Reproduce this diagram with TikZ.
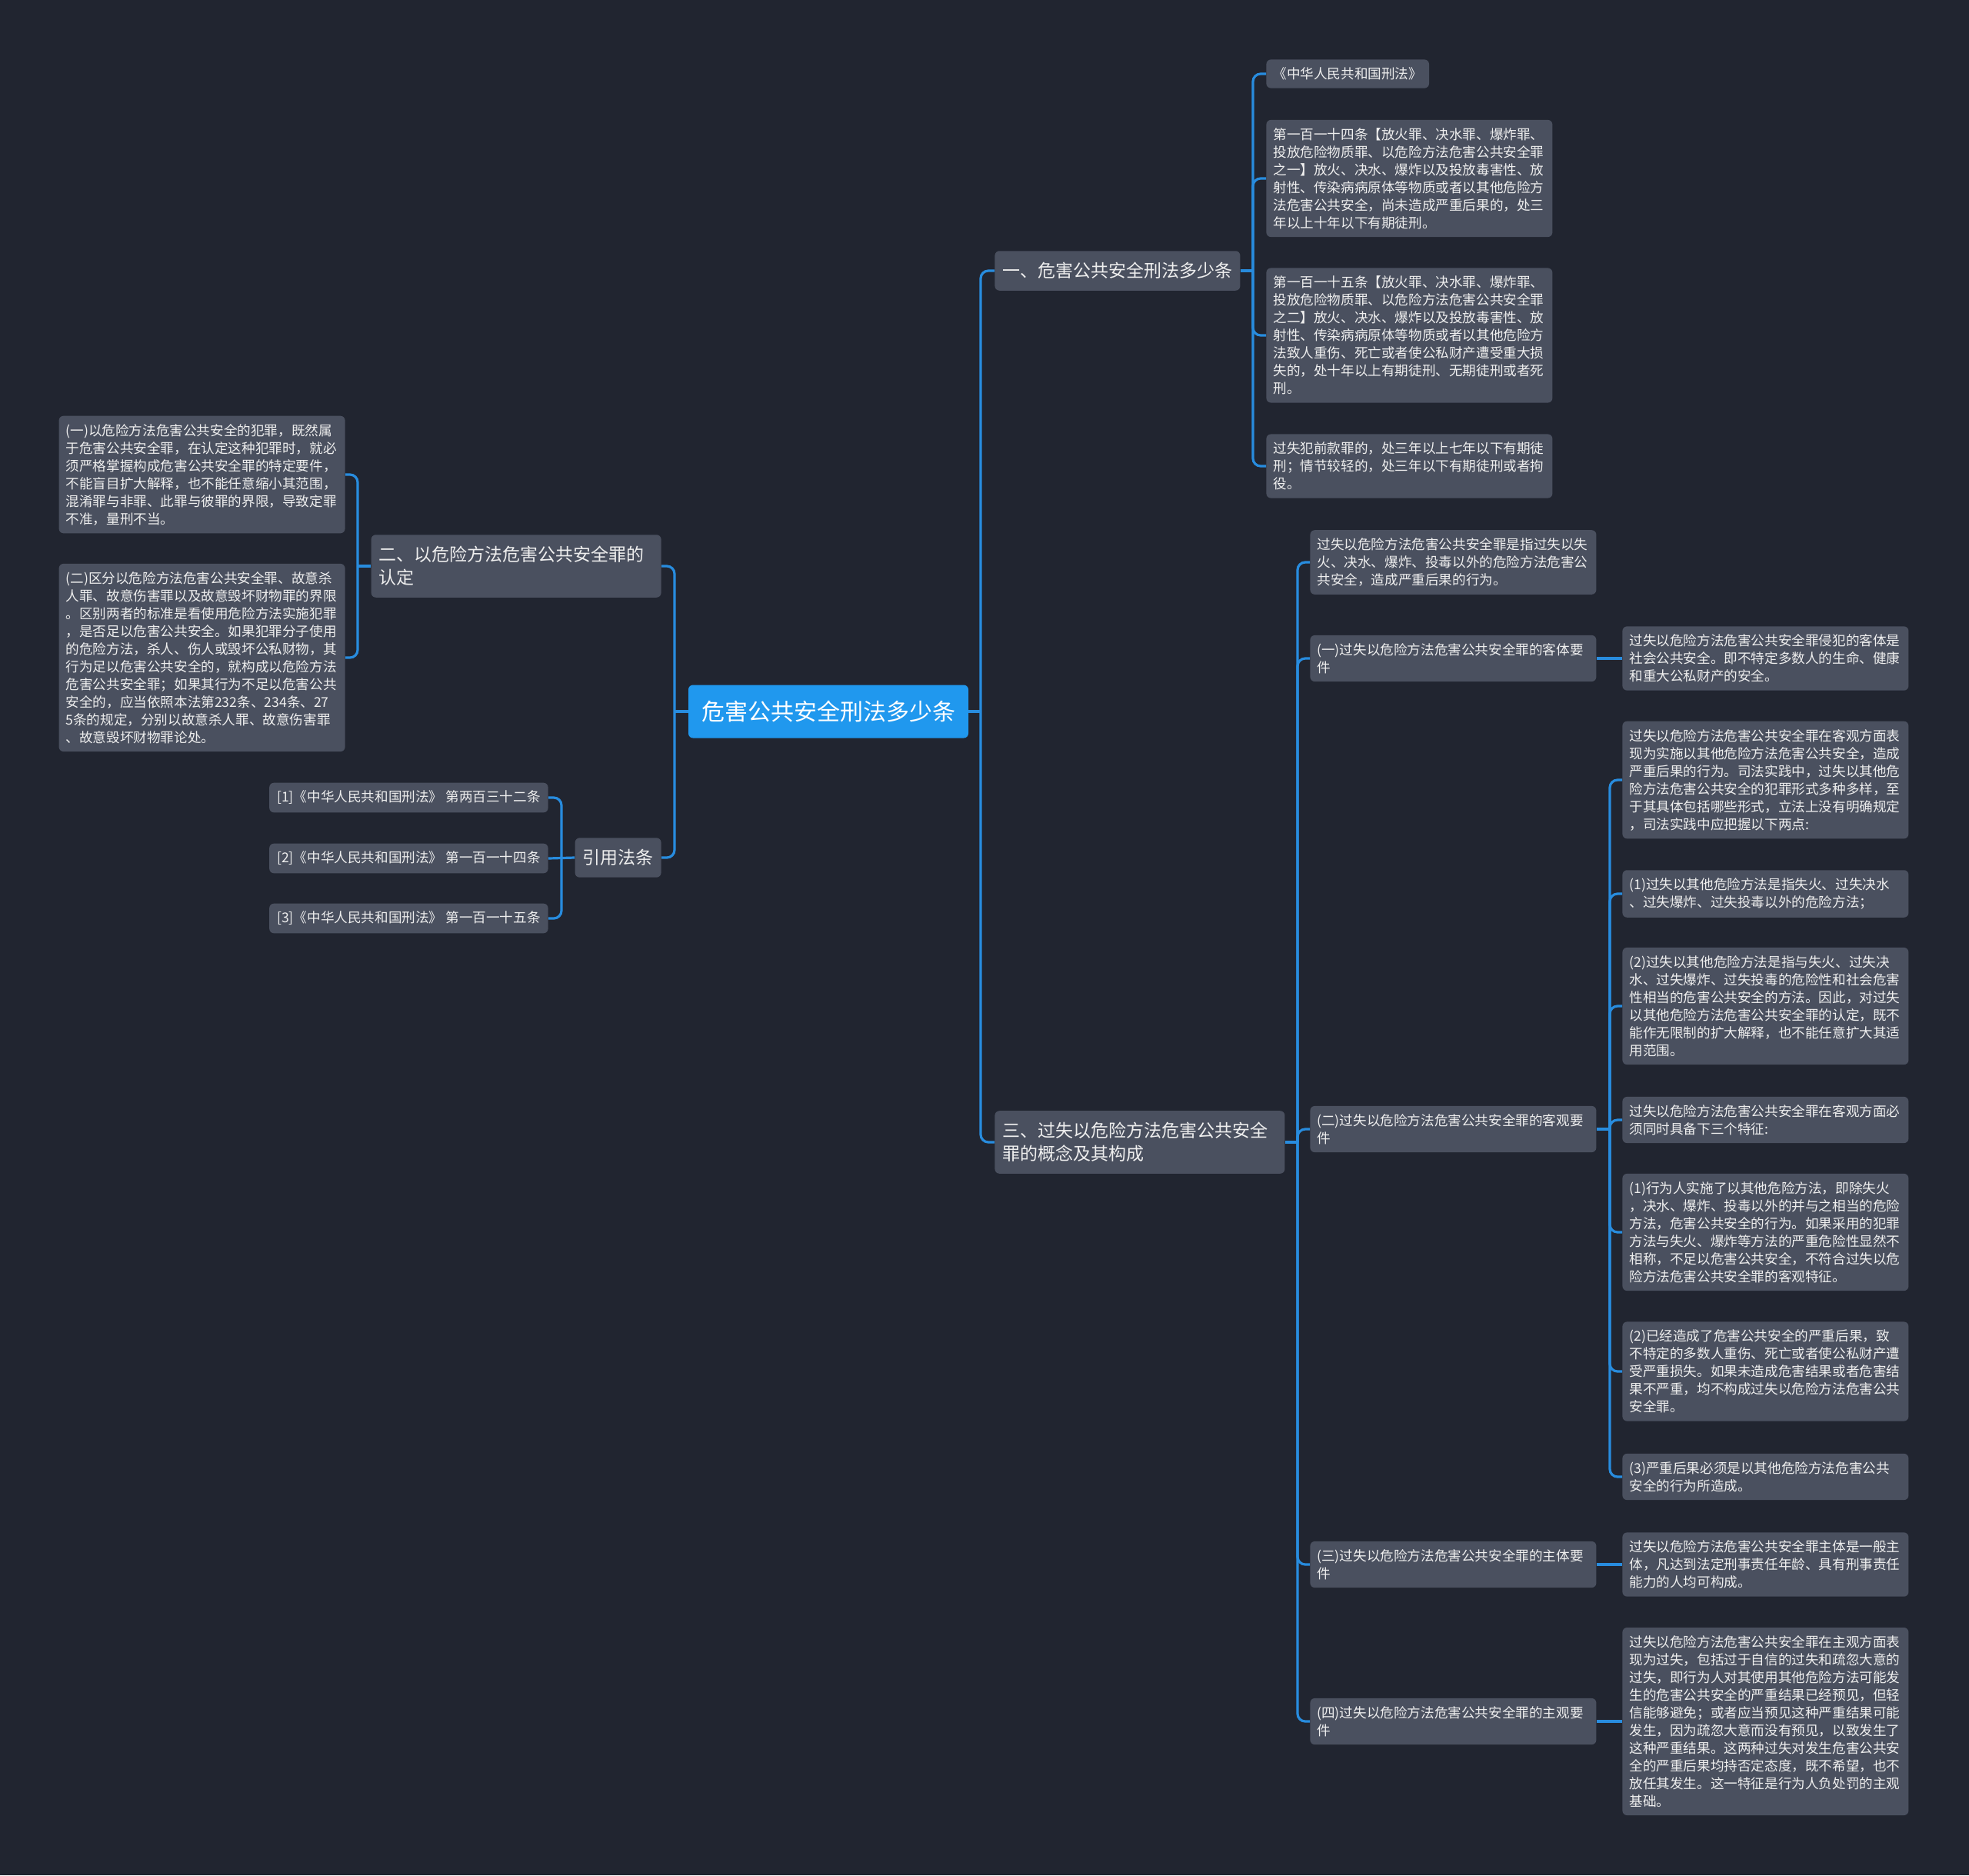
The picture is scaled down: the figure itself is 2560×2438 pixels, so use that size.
\documentclass[tikz,border=0pt]{standalone}
\usepackage{fontspec}
\setmainfont{Noto Sans CJK SC}
\definecolor{bgc}{RGB}{33,37,48}
\definecolor{nodec}{RGB}{74,80,95}
\definecolor{rootc}{RGB}{32,152,238}
\definecolor{linec}{RGB}{40,140,222}
\definecolor{txt}{RGB}{238,238,238}
\tikzset{
 base/.style={fill=nodec, text=txt, rounded corners=3pt, align=left},
 leaf/.style={base, font=\fontsize{8.8}{11.5}\selectfont, text width=177pt, inner xsep=4.5pt, inner ysep=5.2pt},
 cite/.style={base, font=\fontsize{8.8}{11.5}\selectfont, inner xsep=5pt, inner ysep=5.2pt},
 branch/.style={base, font=\fontsize{11.5}{15}\selectfont, inner xsep=5pt, inner ysep=7.5pt},
 branchw/.style={branch, text width=178.5pt},
 rootn/.style={fill=rootc, text=white, rounded corners=3pt, font=\fontsize{15}{18}\selectfont, minimum width=182pt, minimum height=34.5pt, inner sep=0pt},
 conn/.style={draw=linec, line width=1.6pt, rounded corners=5pt},
}
\begin{document}
\begin{tikzpicture}[x=0.5pt,y=-0.5pt]
\fill[bgc] (0,0) rectangle (2560,2438);
\useasboundingbox (0,0) rectangle (2560,2438);

% trunk coordinates
\coordinate (tR) at (1275,0);
\coordinate (tL) at (877,0);
\coordinate (t1) at (1629,0);
\coordinate (t3) at (1687,0);
\coordinate (t2) at (465,0);
\coordinate (tC) at (730,0);
\coordinate (tS) at (2093,0);

% root
\node[rootn] (root) at (1077,925) {危害公共安全刑法多少条};

% branches
\node[branch, anchor=west] (b1) at (1293,352) {一、危害公共安全刑法多少条};
\node[branchw, anchor=west] (b3) at (1293,1485) {三、过失以危险方法危害公共安全\\罪的概念及其构成};
\node[branchw, anchor=east] (b2) at (860,736) {二、以危险方法危害公共安全罪的\\认定};
\node[branch, anchor=east] (bc) at (860,1115) {引用法条};

% left leaves
\node[leaf, anchor=east] (l1) at (449,617) {(一)以危险方法危害公共安全的犯罪，既然属\\于危害公共安全罪，在认定这种犯罪时，就必\\须严格掌握构成危害公共安全罪的特定要件，\\不能盲目扩大解释，也不能任意缩小其范围，\\混淆罪与非罪、此罪与彼罪的界限，导致定罪\\不准，量刑不当。};
\node[leaf, anchor=east] (l2) at (449,855) {(二)区分以危险方法危害公共安全罪、故意杀\\人罪、故意伤害罪以及故意毁坏财物罪的界限\\。区别两者的标准是看使用危险方法实施犯罪\\，是否足以危害公共安全。如果犯罪分子使用\\的危险方法，杀人、伤人或毁坏公私财物，其\\行为足以危害公共安全的，就构成以危险方法\\危害公共安全罪；如果其行为不足以危害公共\\安全的，应当依照本法第232条、234条、27\\5条的规定，分别以故意杀人罪、故意伤害罪\\、故意毁坏财物罪论处。};

% citations
\node[cite, anchor=east] (c1) at (713,1037) {[1]《中华人民共和国刑法》 第两百三十二条};
\node[cite, anchor=east] (c2) at (713,1116) {[2]《中华人民共和国刑法》 第一百一十四条};
\node[cite, anchor=east] (c3) at (713,1194) {[3]《中华人民共和国刑法》 第一百一十五条};

% branch 1 children
\node[base, font=\fontsize{8.8}{11.5}\selectfont, inner xsep=4.5pt, inner ysep=5.2pt, anchor=west] (r1a) at (1646,96) {《中华人民共和国刑法》};
\node[leaf, anchor=west] (r1b) at (1646,232) {第一百一十四条【放火罪、决水罪、爆炸罪、\\投放危险物质罪、以危险方法危害公共安全罪\\之一】放火、决水、爆炸以及投放毒害性、放\\射性、传染病病原体等物质或者以其他危险方\\法危害公共安全，尚未造成严重后果的，处三\\年以上十年以下有期徒刑。};
\node[leaf, anchor=west] (r1c) at (1646,436) {第一百一十五条【放火罪、决水罪、爆炸罪、\\投放危险物质罪、以危险方法危害公共安全罪\\之二】放火、决水、爆炸以及投放毒害性、放\\射性、传染病病原体等物质或者以其他危险方\\法致人重伤、死亡或者使公私财产遭受重大损\\失的，处十年以上有期徒刑、无期徒刑或者死\\刑。};
\node[leaf, anchor=west] (r1d) at (1646,606) {过失犯前款罪的，处三年以上七年以下有期徒\\刑；情节较轻的，处三年以下有期徒刑或者拘\\役。};

% branch 3 children
\node[leaf, anchor=west] (s0) at (1703,731) {过失以危险方法危害公共安全罪是指过失以失\\火、决水、爆炸、投毒以外的危险方法危害公\\共安全，造成严重后果的行为。};
\node[leaf, anchor=west] (s1) at (1703,856) {(一)过失以危险方法危害公共安全罪的客体要\\件};
\node[leaf, anchor=west] (s2) at (1703,1468) {(二)过失以危险方法危害公共安全罪的客观要\\件};
\node[leaf, anchor=west] (s3) at (1703,2034) {(三)过失以危险方法危害公共安全罪的主体要\\件};
\node[leaf, anchor=west] (s4) at (1703,2238) {(四)过失以危险方法危害公共安全罪的主观要\\件};

\node[leaf, anchor=west] (s1a) at (2109,856) {过失以危险方法危害公共安全罪侵犯的客体是\\社会公共安全。即不特定多数人的生命、健康\\和重大公私财产的安全。};

\node[leaf, anchor=west] (s2a) at (2109,1014) {过失以危险方法危害公共安全罪在客观方面表\\现为实施以其他危险方法危害公共安全，造成\\严重后果的行为。司法实践中，过失以其他危\\险方法危害公共安全的犯罪形式多种多样，至\\于其具体包括哪些形式，立法上没有明确规定\\，司法实践中应把握以下两点:};
\node[leaf, anchor=west] (s2b) at (2109,1162) {(1)过失以其他危险方法是指失火、过失决水\\、过失爆炸、过失投毒以外的危险方法；};
\node[leaf, anchor=west] (s2c) at (2109,1308) {(2)过失以其他危险方法是指与失火、过失决\\水、过失爆炸、过失投毒的危险性和社会危害\\性相当的危害公共安全的方法。因此，对过失\\以其他危险方法危害公共安全罪的认定，既不\\能作无限制的扩大解释，也不能任意扩大其适\\用范围。};
\node[leaf, anchor=west] (s2d) at (2109,1456) {过失以危险方法危害公共安全罪在客观方面必\\须同时具备下三个特征:};
\node[leaf, anchor=west] (s2e) at (2109,1602) {(1)行为人实施了以其他危险方法，即除失火\\，决水、爆炸、投毒以外的并与之相当的危险\\方法，危害公共安全的行为。如果采用的犯罪\\方法与失火、爆炸等方法的严重危险性显然不\\相称，不足以危害公共安全，不符合过失以危\\险方法危害公共安全罪的客观特征。};
\node[leaf, anchor=west] (s2f) at (2109,1783) {(2)已经造成了危害公共安全的严重后果，致\\不特定的多数人重伤、死亡或者使公私财产遭\\受严重损失。如果未造成危害结果或者危害结\\果不严重，均不构成过失以危险方法危害公共\\安全罪。};
\node[leaf, anchor=west] (s2g) at (2109,1920) {(3)严重后果必须是以其他危险方法危害公共\\安全的行为所造成。};

\node[leaf, anchor=west] (s3a) at (2109,2034) {过失以危险方法危害公共安全罪主体是一般主\\体，凡达到法定刑事责任年龄、具有刑事责任\\能力的人均可构成。};
\node[leaf, anchor=west] (s4a) at (2109,2238) {过失以危险方法危害公共安全罪在主观方面表\\现为过失，包括过于自信的过失和疏忽大意的\\过失，即行为人对其使用其他危险方法可能发\\生的危害公共安全的严重结果已经预见，但轻\\信能够避免；或者应当预见这种严重结果可能\\发生，因为疏忽大意而没有预见，以致发生了\\这种严重结果。这两种过失对发生危害公共安\\全的严重后果均持否定态度，既不希望，也不\\放任其发生。这一特征是行为人负处罚的主观\\基础。};

% connectors: root right
\draw[conn] (root.east) -- (tR |- root.east);
\foreach \c in {b1,b3} \draw[conn] (tR |- root.east) -- (tR |- \c.west) -- (\c.west);
% root left
\draw[conn] (root.west) -- (tL |- root.west);
\foreach \c in {b2,bc} \draw[conn] (tL |- root.west) -- (tL |- \c.east) -- (\c.east);
% branch 1
\draw[conn] (b1.east) -- (t1 |- b1.east);
\foreach \c in {r1a,r1b,r1c,r1d} \draw[conn] (t1 |- b1.east) -- (t1 |- \c.west) -- (\c.west);
% branch 3
\draw[conn] (b3.east) -- (t3 |- b3.east);
\foreach \c in {s0,s1,s2,s3,s4} \draw[conn] (t3 |- b3.east) -- (t3 |- \c.west) -- (\c.west);
% branch 2
\draw[conn] (b2.west) -- (t2 |- b2.west);
\foreach \c in {l1,l2} \draw[conn] (t2 |- b2.west) -- (t2 |- \c.east) -- (\c.east);
% citations
\draw[conn] (bc.west) -- (c2.east);
\foreach \c in {c1,c3} \draw[conn] (tC |- bc.west) -- (tC |- \c.east) -- (\c.east);
% s1, s3, s4 leaves
\draw[conn] (s1.east) -- (s1a.west);
\draw[conn] (s3.east) -- (s3a.west);
\draw[conn] (s4.east) -- (s4a.west);
% s2
\draw[conn] (s2.east) -- (tS |- s2.east);
\foreach \c in {s2a,s2b,s2c,s2d,s2e,s2f,s2g} \draw[conn] (tS |- s2.east) -- (tS |- \c.west) -- (\c.west);
\end{tikzpicture}
\end{document}
